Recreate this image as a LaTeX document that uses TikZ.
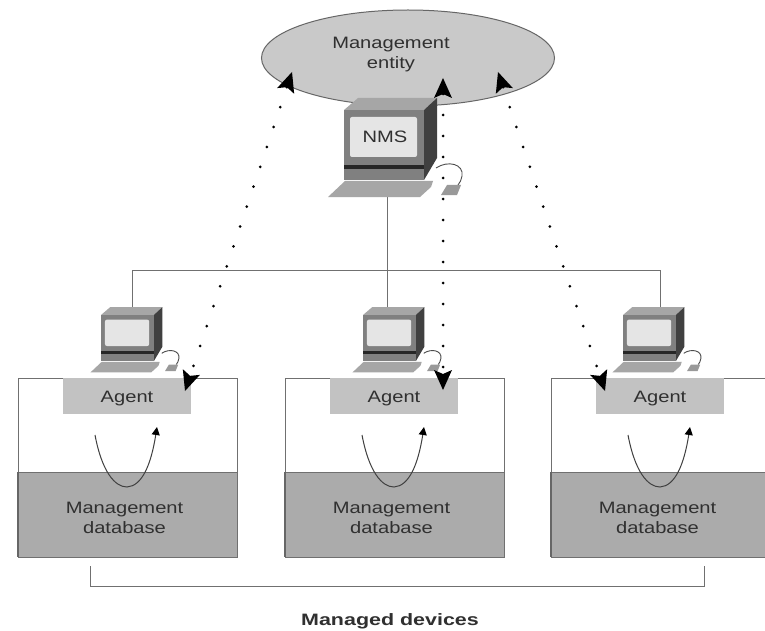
\documentclass[tikz,border=0pt]{standalone}
\usepackage{fontspec}
\setmainfont{Liberation Sans}
\newfontfamily\lab[FakeStretch=1.22]{Liberation Sans}
\newfontfamily\labb[FakeStretch=1.3]{Liberation Sans}
\usetikzlibrary{arrows.meta,shapes.geometric}
\definecolor{ellfill}{HTML}{C9C9C9}
\definecolor{dbfill}{HTML}{ABABAB}
\definecolor{agfill}{HTML}{C2C2C2}
\definecolor{linec}{HTML}{707070}
\definecolor{txt}{HTML}{303030}
\tikzset{
  x=1pt,y=-1pt,
  label text/.style={font=\lab\fontsize{16.5}{20}\selectfont,text=txt,align=center,inner sep=0pt},
  wire/.style={draw=linec,line width=1pt},
  devbox/.style={draw=linec,line width=1pt},
  dots/.style={line width=3pt,line cap=round,dash pattern=on 0pt off 21pt,black,{Stealth[length=20pt,width=18pt,inset=4pt,line width=0pt]}-{Stealth[length=20pt,width=18pt,inset=4pt,line width=0pt]}},
  loop arrow/.style={draw=black!75,line width=1pt,-{Triangle[length=8pt,width=8pt,black]}},
}
% computer drawn in coordinates of the NMS one
\newcommand{\computer}[1]{%
  \fill[black!35] (344,110)--(358,98)--(437,98)--(424,110)--cycle;
  \fill[black!75] (424,110)--(437,98)--(437,158)--(424,180)--cycle;
  \fill[black!50] (344,110) rectangle (424,166);
  \fill[black!85] (344,165) rectangle (424,169);
  \fill[black!50] (344,169) rectangle (424,180);
  \fill[black!10,rounded corners=2pt] (350,117) rectangle (417,157);
  \fill[black!35] (328,197)--(345,181)--(433,181)--(431,187)--(420,197)--cycle;
  \draw[black!70,line width=0.9pt] (436,168) .. controls (448,160) and (464,164) .. (462,176) .. controls (461,180) and (460,183) .. (458,185);
  \fill[black!40] (441,195)--(447,185)--(461,185)--(457,195)--cycle;
  #1%
}
\begin{document}
\begin{tikzpicture}
\useasboundingbox (0,0) rectangle (765,631);
\fill[white] (0,0) rectangle (765,631);

% management entity
\node[draw=black!60,fill=ellfill,line width=1pt,shape=ellipse,minimum width=293pt,minimum height=96pt,inner sep=0pt] (entity) at (408,58) {};
\node[label text] (entitytext) at (391,55) {Management\\[0pt]entity};

% wires
\coordinate (nmsbottom) at (387,197);
\coordinate (bus) at (387,270);
\coordinate (busl) at (132,270);
\coordinate (busr) at (660,270);
\coordinate (pcl) at (132,308);
\coordinate (pcm) at (387,308);
\coordinate (pcr) at (660,308);
\draw[wire] (nmsbottom) -- (pcm);
\draw[wire] (pcl) -- (busl) -- (busr) -- (pcr);

% NMS computer
\computer{}
\node[label text] (nms) at (385,137) {NMS};

% agent computers
\begin{scope}[shift={(101,315)},scale=0.66,shift={(-344,-110)}]\computer{}\end{scope}
\begin{scope}[shift={(363,315)},scale=0.66,shift={(-344,-110)}]\computer{}\end{scope}
\begin{scope}[shift={(623,315)},scale=0.66,shift={(-344,-110)}]\computer{}\end{scope}

% devices
\foreach \n/\xa in {a/18,b/285,c/551}{
  \fill[white] (\xa,378) rectangle (\xa+219,557);
  \fill[dbfill] (\xa,472) rectangle (\xa+219,557);
  \draw[devbox] (\xa,378) rectangle (\xa+219,557);
  \draw[devbox] (\xa,472) -- (\xa+219,472);
  \draw[line width=1.5pt,black!60] (\xa,472) -- (\xa,557);
  \node[fill=agfill,minimum width=128pt,minimum height=36pt,inner sep=0pt] (agentbox\n) at (\xa+109,396) {};
  \node[label text] (agent\n) at (\xa+109,399) {Agent};
  \node[label text] (db\n) at (\xa+106.5,518) {Management\\[0pt]database};
  \draw[loop arrow] (\xa+77,435) .. controls (\xa+84,472) and (\xa+97,487) .. (\xa+109,487) .. controls (\xa+124,486) and (\xa+133,465) .. (\xa+139,427);
}

% dotted arrows
\coordinate (el) at (292,72);
\coordinate (em) at (443,78);
\coordinate (er) at (498,72);
\coordinate (al) at (185,391);
\coordinate (am) at (443,390);
\coordinate (ar) at (605,391);
\draw[dots] (el) -- (al);
\draw[dots] (em) -- (am);
\draw[dots] (er) -- (ar);

% bracket
\coordinate (brl) at (90,566);
\coordinate (brlb) at (90,586);
\coordinate (brrb) at (704,586);
\coordinate (brr) at (704,566);
\draw[wire] (brl) -- (brlb) -- (brrb) -- (brr);
\node[font=\labb\bfseries\fontsize{16.5}{20}\selectfont,text=txt,inner sep=0pt] (managed) at (390,621) {Managed devices};
\end{tikzpicture}
\end{document}
